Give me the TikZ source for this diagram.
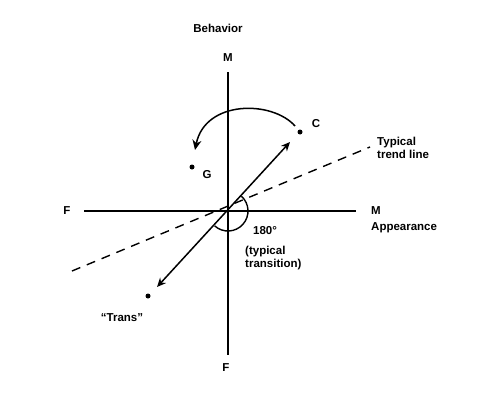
\documentclass[tikz,border=0pt]{standalone}
\usepackage{fontspec}
\setmainfont{Liberation Sans}
\usetikzlibrary{arrows.meta}
\begin{document}
\begin{tikzpicture}[x=1pt,y=-1pt,
  axis/.style={line width=1.6pt},
  lbl/.style={font=\bfseries\fontsize{11.5}{13}\selectfont, inner sep=1pt},
  dotpt/.style={circle, fill=black, inner sep=0pt, minimum size=5pt},
  trend/.style={line width=1.4pt, dash pattern=on 9pt off 7pt},
  vec/.style={line width=1.5pt, {Stealth[length=9pt,width=8pt]}-{Stealth[length=9pt,width=8pt]}}]
\useasboundingbox (0,0) rectangle (503,420);
% axes end points
\coordinate (O) at (228,211);
\coordinate (ytop) at (228,72);
\coordinate (ybot) at (228,355);
\coordinate (xleft) at (84,211);
\coordinate (xright) at (356,211);
\draw[axis] (ytop) -- (ybot);
\draw[axis] (xleft) -- (xright);
% labels
\node[lbl] (beh) at (218,28) {Behavior};
\node[lbl] (mtop) at (228,58) {M};
\node[lbl] (fbot) at (226,368) {F};
\node[lbl] (fleft) at (67,211) {F};
\node[lbl] (mright) at (376,211) {M};
\node[lbl, anchor=west] (app) at (370,228) {Appearance};
% trend line
\coordinate (tl) at (72,271);
\coordinate (tr) at (370,147);
\draw[trend] (tl) -- (tr);
\node[lbl, anchor=west, align=left] (trendlbl) at (376,148) {Typical\\trend line};
% points
\node[dotpt] (C) at (300,132) {};
\node[lbl] (Clbl) at (316,124) {C};
\node[dotpt] (G) at (192,167) {};
\node[lbl] (Glbl) at (207,175) {G};
\node[dotpt] (T) at (148,296) {};
\node[lbl] (Tlbl) at (122,318) {``Trans''};
% vector
\coordinate (va) at (157,287);
\coordinate (vb) at (290,142);
\draw[vec] (va) -- (vb);
% curved arrow
\coordinate (cs) at (295,126);
\coordinate (ce) at (195,150);
\draw[line width=1.5pt, -{Stealth[length=10pt,width=9pt]}] (cs) .. controls (272,100) and (205,100) .. (ce);
% angle arc
\draw[line width=1.4pt] ([shift={(-48:20)}]O) arc[start angle=-48, end angle=132, radius=20];
\node[lbl, anchor=west] (deg) at (252,231) {180°};
\node[lbl, anchor=west, align=left] (trans) at (244,258) {(typical\\transition)};
\end{tikzpicture}
\end{document}
